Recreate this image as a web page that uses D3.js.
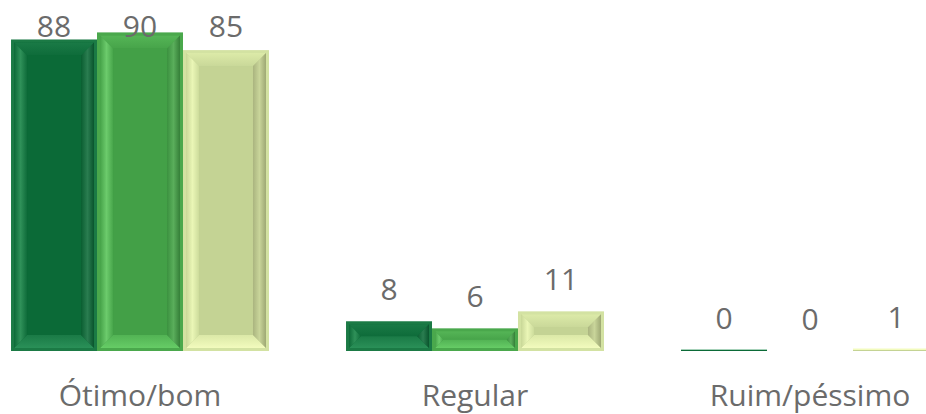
<!DOCTYPE html>
<html>
<head>
<meta charset="utf-8">
<script src="https://cdnjs.cloudflare.com/ajax/libs/d3/7.8.5/d3.min.js"></script>
<style>
  html, body { margin: 0; padding: 0; background: #fff; }
  svg { display: block; }
</style>
</head>
<body>
<svg id="chart" width="926" height="414"></svg>
<script>
// categories and series
var categories = ['Ótimo/bom', 'Regular', 'Ruim/péssimo'];
var seriesNames = ['s1', 's2', 's3'];
var series1 = [88, 8.4, 0.4];
var series2 = [90, 6.4, 0];
var series3 = [85, 11.2, 0.7];

// bevel palettes per series
var palettes = [
  { face: '#0b6a37', edge: '#1b7a45', top: ['#1a7a46', '#0e6c3a'], left: ['#0d6a38', '#2f9159', '#0f6c3a'], right: ['#0a5e31', '#2a7d50', '#09552d'], bottom: ['#2a9058', '#1a7a46'] },
  { face: '#43a047', edge: '#4aa84c', top: ['#55b556', '#47a44a'], left: ['#45a248', '#6ccb6c', '#48a64b'], right: ['#3b913f', '#5aae5b', '#357f38'], bottom: ['#66cc66', '#52b354'] },
  { face: '#c4d394', edge: '#d3e2a2', top: ['#dceaa8', '#c9d899'], left: ['#c8d797', '#eaf6b6', '#cddc9c'], right: ['#aab47f', '#c9d59a', '#9ea874'], bottom: ['#f2fbbd', '#dbe8a7'] }
];

var svg = d3.select('#chart');

var x0 = d3.scaleBand()
  .domain(categories)
  .range([-27.5, 977.5])
  .paddingInner(0.23)
  .paddingOuter(0.115);

var x1 = d3.scaleBand()
  .domain(seriesNames)
  .range([0, x0.bandwidth()]);

var y = d3.scaleLinear().domain([0, 100]).range([351, -3]);

var rows = [];
categories.forEach(function (c, i) {
  [series1, series2, series3].forEach(function (s, j) {
    rows.push({ cat: c, key: seriesNames[j], idx: j, value: s[i] });
  });
});

// gradients
var defs = svg.append('defs');
palettes.forEach(function (p, i) {
  function grad(id, stops, vertical) {
    var g = defs.append('linearGradient').attr('id', id)
      .attr('x1', 0).attr('y1', 0)
      .attr('x2', vertical ? 0 : 1).attr('y2', vertical ? 1 : 0);
    stops.forEach(function (c, k) {
      g.append('stop').attr('offset', (k / (stops.length - 1) * 100) + '%').attr('stop-color', c);
    });
  }
  grad('top' + i, p.top, true);
  grad('bot' + i, p.bottom.slice().reverse(), true);
  grad('left' + i, p.left, false);
  grad('right' + i, p.right, false);
});

var bars = svg.append('g').selectAll('g.bar')
  .data(rows)
  .join('g')
  .attr('class', 'bar')
  .attr('transform', function (d) { return 'translate(' + (x0(d.cat) + x1(d.key)) + ',0)'; });

bars.each(function (d) {
  var g = d3.select(this);
  var w = x1.bandwidth();
  var top = y(d.value), bot = y(0);
  var h = bot - top;
  if (h <= 0.5) return;
  var p = palettes[d.idx];
  if (h < 3) {
    // very thin bar: just a flat strip
    g.append('rect').attr('x', 0).attr('y', top).attr('width', w).attr('height', h)
      .attr('fill', p.bottom[0]);
    g.append('rect').attr('x', 0).attr('y', bot - 1).attr('width', w).attr('height', 1)
      .attr('fill', p.face);
    return;
  }
  var o = Math.min(3, h / 4);
  var b = Math.min(13, (h - 2 * o) / 2, w / 2);
  g.append('rect').attr('x', 0).attr('y', top).attr('width', w).attr('height', h)
    .attr('fill', p.edge);
  var L = o, R = w - o, T = top + o, B = bot - o;
  g.append('rect').attr('x', L).attr('y', T).attr('width', R - L).attr('height', B - T)
    .attr('fill', p.face);
  var pts = function (a) { return a.map(function (q) { return q.join(','); }).join(' '); };
  g.append('polygon').attr('points', pts([[L, T], [R, T], [R - b, T + b], [L + b, T + b]]))
    .attr('fill', 'url(#top' + d.idx + ')');
  g.append('polygon').attr('points', pts([[L, B], [R, B], [R - b, B - b], [L + b, B - b]]))
    .attr('fill', 'url(#bot' + d.idx + ')');
  g.append('polygon').attr('points', pts([[L, T], [L + b, T + b], [L + b, B - b], [L, B]]))
    .attr('fill', 'url(#left' + d.idx + ')');
  g.append('polygon').attr('points', pts([[R, T], [R - b, T + b], [R - b, B - b], [R, B]]))
    .attr('fill', 'url(#right' + d.idx + ')');
  if (B - T > 2 * b + 1) {
    g.append('rect').attr('x', L + b).attr('y', T + b).attr('width', R - L - 2 * b).attr('height', B - T - 2 * b)
      .attr('fill', p.face);
  }
});

// value labels (pushed inside when there is no room above)
var fmt = d3.format('.0f');
svg.append('g').selectAll('text')
  .data(rows)
  .join('text')
  .attr('x', function (d) { return x0(d.cat) + x1(d.key) + x1.bandwidth() / 2; })
  .attr('y', function (d) { return Math.max(37, y(d.value) - 21); })
  .attr('text-anchor', 'middle')
  .attr('font-family', '"Open Sans", "Noto Sans", sans-serif')
  .attr('font-size', 30)
  .attr('font-weight', 500)
  .attr('fill', '#6b6b6b')
  .text(function (d) { return fmt(d.value); });

// category labels
svg.append('g').selectAll('text')
  .data(categories)
  .join('text')
  .attr('x', function (d) { return x0(d) + x0.bandwidth() / 2; })
  .attr('y', 406)
  .attr('text-anchor', 'middle')
  .attr('font-family', '"Open Sans", "Noto Sans", sans-serif')
  .attr('font-size', 30)
  .attr('font-weight', 500)
  .attr('fill', '#6b6b6b')
  .text(function (d) { return d; });
</script>
</body>
</html>
